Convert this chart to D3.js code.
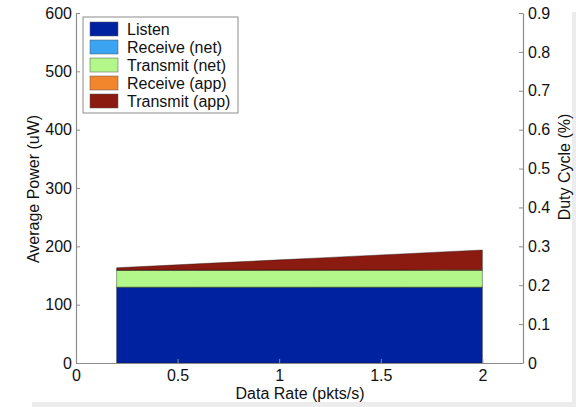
<!DOCTYPE html>
<html><head><meta charset="utf-8">
<script src="https://cdn.jsdelivr.net/npm/d3@7"></script>
<style>body{margin:0;background:#fff}svg{display:block;font-family:"Liberation Sans",Arial,Helvetica,sans-serif}</style>
</head><body><svg id="c" width="576" height="407"></svg>
<script>
const rates = [0.2, 0.4, 0.6, 0.8, 1.0, 1.2, 1.4, 1.6, 1.8, 2.0];
const listen = [130, 130, 130, 130, 130, 130, 130, 130, 130, 130];
const receiveNet = [0, 0, 0, 0, 0, 0, 0, 0, 0, 0];
const transmitNet = [29, 29, 29, 29, 29, 29, 29, 29, 29, 29];
const receiveApp = [0.3, 0.3, 0.4, 0.4, 0.5, 0.5, 0.6, 0.6, 0.7, 0.7];
const transmitApp = [4, 7.3, 10.7, 14, 17.3, 20.7, 24, 27.3, 30.7, 34];
const seriesNames = ["Listen", "Receive (net)", "Transmit (net)", "Receive (app)", "Transmit (app)"];
const seriesColors = ["#0022a0", "#3aa3f2", "#b3f78a", "#f2862c", "#8b1a10"];
const xTicks = [0, 0.5, 1, 1.5, 2];
const yTicks = [0, 100, 200, 300, 400, 500, 600];
const y2Ticks = [0, 0.1, 0.2, 0.3, 0.4, 0.5, 0.6, 0.7, 0.8, 0.9];

const svg = d3.select("#c");
// outer gray margins of the screenshot
svg.append("rect").attr("x", 572).attr("y", 12).attr("width", 4).attr("height", 395).attr("fill", "#ececec");
svg.append("rect").attr("x", 32).attr("y", 402).attr("width", 544).attr("height", 5).attr("fill", "#ececec");

const L = 76, R = 523, T = 13, B = 363;
const x = d3.scaleLinear().domain([0, 2.2]).range([L, R]);
const y = d3.scaleLinear().domain([0, 600]).range([B, T]);
const y2 = d3.scaleLinear().domain([0, 0.9]).range([B, T]);

const table = rates.map((r, i) => ({
  rate: r,
  "Listen": listen[i], "Receive (net)": receiveNet[i], "Transmit (net)": transmitNet[i],
  "Receive (app)": receiveApp[i], "Transmit (app)": transmitApp[i]
}));
const stack = d3.stack().keys(seriesNames)(table);
const area = d3.area().x(d => x(d.data.rate)).y0(d => y(d[0])).y1(d => y(d[1]));
svg.append("g").selectAll("path").data(stack).join("path")
  .attr("d", area)
  .attr("fill", (d, i) => seriesColors[i])
  .attr("stroke", "#1a1a1a").attr("stroke-width", 0.6).attr("stroke-opacity", 0.7);

const axisColor = "#8c8c8c";
function styleAxis(g) {
  g.select(".domain").attr("stroke", axisColor).attr("stroke-width", 1.2);
  g.selectAll(".tick line").attr("stroke", axisColor);
  g.selectAll(".tick text").attr("fill", "#111").attr("font-size", 16);
}
svg.append("g").attr("transform", `translate(0,${B})`)
  .call(d3.axisBottom(x).tickValues(xTicks).tickFormat(d3.format("")).tickSizeInner(-4).tickSizeOuter(0).tickPadding(7))
  .call(styleAxis);
svg.append("g").attr("transform", `translate(${L},0)`)
  .call(d3.axisLeft(y).tickValues(yTicks).tickSizeInner(-4).tickSizeOuter(0).tickPadding(4))
  .call(styleAxis);
svg.append("g").attr("transform", `translate(${R},0)`)
  .call(d3.axisRight(y2).tickValues(y2Ticks).tickFormat(d3.format("")).tickSizeInner(-4).tickSizeOuter(0).tickPadding(5))
  .call(styleAxis);

svg.append("text").attr("x", 300).attr("y", 399).attr("text-anchor", "middle").attr("font-size", 16).attr("fill", "#111").text("Data Rate (pkts/s)");
svg.append("text").attr("transform", "translate(39,189) rotate(-90)").attr("text-anchor", "middle").attr("font-size", 16).attr("fill", "#111").text("Average Power (uW)");
svg.append("text").attr("transform", "translate(570,167) rotate(-90)").attr("text-anchor", "middle").attr("font-size", 16).attr("fill", "#111").text("Duty Cycle (%)");

// legend
const lg = svg.append("g");
lg.append("rect").attr("x", 83).attr("y", 17).attr("width", 155).attr("height", 96).attr("fill", "#fff").attr("stroke", axisColor).attr("stroke-width", 1);
seriesNames.forEach((n, i) => {
  const cy = 29 + i * 18;
  lg.append("rect").attr("x", 90).attr("y", cy - 7).attr("width", 28).attr("height", 14).attr("fill", seriesColors[i]).attr("stroke", "#555").attr("stroke-width", 0.5);
  lg.append("text").attr("x", 127).attr("y", cy + 6).attr("font-size", 16).attr("fill", "#111").text(n);
});
</script></body></html>
